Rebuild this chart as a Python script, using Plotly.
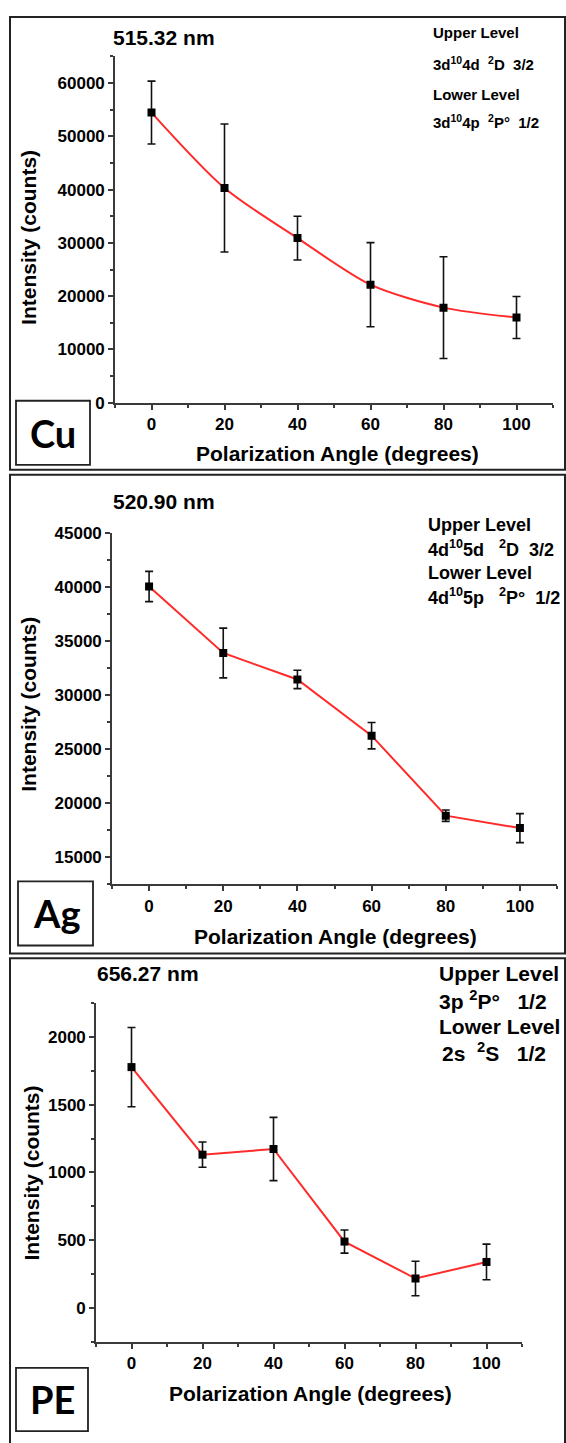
import plotly.graph_objects as go

# ---- data -------------------------------------------------------------
angles = [0, 20, 40, 60, 80, 100]

cu_intensity = [54450, 40300, 30900, 22150, 17850, 16000]
cu_error = [5900, 12000, 4100, 7900, 9550, 3950]

ag_intensity = [40050, 33900, 31450, 26250, 18850, 17700]
ag_error = [1400, 2300, 850, 1220, 530, 1340]

pe_intensity = [1776, 1131, 1173, 491, 219, 341]
pe_error = [292, 93, 233, 85, 127, 131]

x_ticks = [0, 20, 40, 60, 80, 100]
cu_y_ticks = [0, 10000, 20000, 30000, 40000, 50000, 60000]
ag_y_ticks = [15000, 20000, 25000, 30000, 35000, 40000, 45000]
pe_y_ticks = [0, 500, 1000, 1500, 2000]

W, H = 566, 1443
FONT = "Liberation Sans, Arial, sans-serif"


def px(x):
    return x / W


def py(y):
    return 1 - y / H


fig = go.Figure()

panels = [
    # (suffix, y values, errors, line shape, x-domain px, y-domain px, y range, y ticks, minor dtick)
    ("", cu_intensity, cu_error, "spline", (115, 553), (48, 399), [0, 65000], cu_y_ticks, 5000),
    ("2", ag_intensity, ag_error, "linear", (112, 557), (531, 887), [12500, 45000], ag_y_ticks, 2500),
    ("3", pe_intensity, pe_error, "linear", (96, 522), (1007, 1351), [-250, 2250], pe_y_ticks, 250),
]

layout_axes = {}
for suffix, yv, ev, shape, xd, yd, yr, yt, ymin in panels:
    fig.add_trace(go.Scatter(
        x=angles, y=yv,
        mode="lines+markers",
        line=dict(color="#ff2a2a", width=2, shape=shape, smoothing=0.8),
        marker=dict(symbol="square", size=8, color="black"),
        error_y=dict(type="data", array=ev, visible=True,
                     color="#111111", thickness=1.6, width=4),
        xaxis="x" + suffix, yaxis="y" + suffix,
        showlegend=False,
    ))
    common = dict(
        showline=True, linecolor="#3a3a3a", linewidth=1.6,
        ticks="outside", ticklen=5, tickwidth=1.5, tickcolor="#3a3a3a",
        showgrid=False, zeroline=False, tickformat="d",
        tickfont=dict(family=FONT, size=17, color="black", weight="bold"),
    )
    layout_axes["xaxis" + suffix] = dict(
        common, domain=[px(xd[0]), px(xd[1])], range=[-10, 110],
        tickvals=x_ticks, anchor="y" + suffix,
        minor=dict(dtick=10, tick0=0, ticks="outside", ticklen=3,
                   tickwidth=1.5, tickcolor="#3a3a3a"),
    )
    layout_axes["yaxis" + suffix] = dict(
        common, domain=[py(yd[1]), py(yd[0])], range=yr,
        tickvals=yt, anchor="x" + suffix,
        minor=dict(dtick=ymin, tick0=0, ticks="outside", ticklen=3,
                   tickwidth=1.5, tickcolor="#3a3a3a"),
    )

fig.update_layout(**layout_axes)

annotations = []


def text(x, y, s, size, anchor="left", bold=True, angle=0, family=FONT):
    annotations.append(dict(
        x=px(x), y=py(y), xref="paper", yref="paper",
        text=s, showarrow=False, xanchor=anchor, yanchor="middle",
        textangle=angle,
        font=dict(family=family, size=size, color="black",
                  weight="bold" if bold else "normal"),
    ))


NB = "\u00a0"
# wavelength labels
text(111, 29, "515.32 nm", 21)
text(111, 499, "520.90 nm", 21)
text(95, 977, "656.27 nm", 21)

# transition levels
text(431, 24, "Upper Level", 15)
text(431, 55, f"3d<sup>10</sup>4d{NB}{NB}<sup>2</sup>D{NB}{NB}3/2", 15)
text(431, 87, "Lower Level", 15)
text(431, 114, f"3d<sup>10</sup>4p{NB}{NB}<sup>2</sup>P°{NB}{NB}1/2", 15)

text(426, 523, "Upper Level", 18)
text(426, 547, f"4d<sup>10</sup>5d{NB}{NB}{NB}<sup>2</sup>D{NB}{NB}3/2", 18)
text(426, 572, "Lower Level", 18)
text(426, 595, f"4d<sup>10</sup>5p{NB}{NB}{NB}<sup>2</sup>P°{NB}{NB}1/2", 18)

text(437, 977, "Upper Level", 21)
text(437, 1004, f"3p{NB}<sup>2</sup>P°{NB}{NB}{NB}1/2", 21)
text(437, 1031, "Lower Level", 21)
text(440, 1057, f"2s{NB}{NB}<sup>2</sup>S{NB}{NB}{NB}1/2", 21)

# axis titles
for cx, cy in [(29, 232), (29, 705), (31, 1180)]:
    text(cx, cy, "Intensity (counts)", 21, anchor="center", angle=-90)
for cx, cy in [(337, 450), (335, 940), (310, 1403)]:
    text(cx, cy, "Polarization Angle (degrees)", 21, anchor="center")

# element labels
for cx, cy, s in [(53, 430, "Cu"), (56, 916, "Ag"), (52, 1409, "PE")]:
    text(cx, cy, s, 38, anchor="center", family="Lato, Carlito, sans-serif")

shapes = []


def rect(x0, y0, x1, y1, w):
    shapes.append(dict(type="rect", xref="paper", yref="paper",
                       x0=px(x0), x1=px(x1), y0=py(y1), y1=py(y0),
                       line=dict(color="#222222", width=w)))


# panel frames
rect(10, 8, 565, 467, 2)
rect(10, 472, 565, 957, 2)
rect(10, 962, 565, 1470, 2)
# element label boxes
rect(16, 397, 90, 462, 1.8)
rect(18, 884, 93, 949, 1.8)
rect(16, 1377, 88, 1441, 1.8)

fig.update_layout(
    width=W, height=H,
    margin=dict(l=0, r=0, t=0, b=0),
    paper_bgcolor="white", plot_bgcolor="white",
    annotations=annotations, shapes=shapes,
)

fig.write_html("out.html")
